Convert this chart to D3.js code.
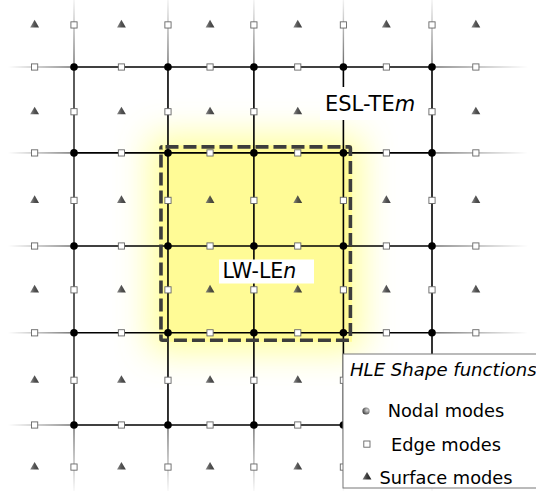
<!DOCTYPE html>
<html><head><meta charset="utf-8">
<script src="https://cdn.jsdelivr.net/npm/d3@7"></script>
<style>html,body{margin:0;padding:0;background:#fff;}svg{display:block;}</style>
</head><body>
<svg id="chart" width="536" height="491"></svg>
<script>
// grid coordinates (element units)
const nodeCols = [0, 1.05, 2.01, 3.01, 4];
const nodeRows = [0, 0.96, 2.0, 2.97, 4];
const midCols = [-0.44, 0.53, 1.52, 2.5, 3.49, 4.49];
const midRows = [-0.47, 0.5, 1.49, 2.49, 3.5, 4.47];
const legendTitle = "HLE Shape functions";
const legendItems = ["Nodal modes", "Edge modes", "Surface modes"];
const labels = [{main: "ESL-TE", ital: "m"}, {main: "LW-LE", ital: "n"}];

const W = 536, H = 491;
const svg = d3.select("#chart");
const sx = d3.scaleLinear().domain([0, 4]).range([74, 432]);
const sy = d3.scaleLinear().domain([0, 4]).range([67, 425]);
const defs = svg.append("defs");

function lg(id, x1, y1, x2, y2, stops) {
  const g = defs.append("linearGradient").attr("id", id)
    .attr("x1", x1).attr("y1", y1).attr("x2", x2).attr("y2", y2);
  stops.forEach(s => g.append("stop").attr("offset", s[0]).attr("stop-color", s[1]).attr("stop-opacity", s[2]));
}
lg("fadeL", 0, 0, 1, 0, [[0, "#000", 0], [1, "#000", 0.6]]);
lg("fadeR", 0, 0, 1, 0, [[0, "#000", 0.6], [1, "#000", 0]]);
lg("fadeT", 0, 0, 0, 1, [[0, "#000", 0.05], [1, "#000", 0.6]]);
lg("fadeB", 0, 0, 0, 1, [[0, "#000", 0.6], [1, "#000", 0.03]]);
lg("triG", 0, 0, 1, 0, [[0, "#7a7a7a", 1], [0.5, "#3c3c3c", 1], [1, "#222", 1]]);
const rg = defs.append("radialGradient").attr("id", "nodeG").attr("cx", 0.65).attr("cy", 0.4).attr("r", 0.7);
rg.append("stop").attr("offset", 0).attr("stop-color", "#ddd");
rg.append("stop").attr("offset", 1).attr("stop-color", "#333");
defs.append("filter").attr("id", "glow").attr("x", -0.5).attr("y", -0.5).attr("width", 2).attr("height", 2)
  .append("feGaussianBlur").attr("stdDeviation", 17);
defs.append("filter").attr("id", "soft").attr("x", -0.1).attr("y", -0.1).attr("width", 1.2).attr("height", 1.2)
  .append("feGaussianBlur").attr("stdDeviation", 0.7);

// yellow highlighted region (LW-LE element)
const bx0 = sx(nodeCols[1]) - 8.5, bx1 = sx(nodeCols[3]) + 8.5;
const by0 = sy(nodeRows[1]) - 7.5, by1 = sy(nodeRows[3]) + 9;
svg.append("rect").attr("x", bx0 - 10).attr("y", by0 - 10).attr("width", bx1 - bx0 + 20).attr("height", by1 - by0 + 20)
  .attr("fill", "#ffff8c").attr("opacity", 0.85).attr("filter", "url(#glow)");
svg.append("rect").attr("x", bx0).attr("y", by0).attr("width", bx1 - bx0).attr("height", by1 - by0)
  .attr("fill", "#fffb96");

// faded line extensions
const x0 = sx(nodeCols[0]), x4 = sx(nodeCols[4]), y0 = sy(nodeRows[0]), y4 = sy(nodeRows[4]);
nodeRows.forEach(r => {
  const y = sy(r);
  svg.append("rect").attr("x", 8).attr("y", y - 0.7).attr("width", x0 - 8).attr("height", 1.4).attr("fill", "url(#fadeL)");
  svg.append("rect").attr("x", x4).attr("y", y - 0.7).attr("width", 528 - x4).attr("height", 1.4).attr("fill", "url(#fadeR)");
});
nodeCols.forEach(c => {
  const x = sx(c);
  svg.append("rect").attr("x", x - 0.7).attr("y", 0).attr("width", 1.4).attr("height", y0).attr("fill", "url(#fadeT)");
  svg.append("rect").attr("x", x - 0.7).attr("y", y4).attr("width", 1.4).attr("height", H - y4).attr("fill", "url(#fadeB)");
});

// grid lines
const grid = svg.append("g").attr("stroke-width", 1.6).attr("fill", "none");
nodeRows.forEach(r => grid.append("line").attr("x1", x0).attr("x2", x4).attr("y1", sy(r)).attr("y2", sy(r)).attr("stroke", "#000"));
nodeCols.forEach((c, i) => grid.append("line").attr("x1", sx(c)).attr("x2", sx(c)).attr("y1", y0).attr("y2", y4)
  .attr("stroke", i === 0 ? "#333" : "#000"));

// dashed element border
svg.append("rect").attr("x", bx0 + 1.5).attr("y", by0 + 1.5).attr("width", bx1 - bx0 - 3).attr("height", by1 - by0 - 3)
  .attr("rx", 1.5).attr("fill", "none").attr("stroke", "#3c3c3c").attr("stroke-width", 3.6)
  .attr("stroke-dasharray", "13,5").attr("stroke-dashoffset", -3).attr("filter", "url(#soft)");

// edge modes (squares)
const sq = 6.2;
const edges = [];
nodeCols.forEach(c => midRows.forEach(r => edges.push([c, r])));
nodeRows.forEach(r => midCols.forEach(c => edges.push([c, r])));
svg.append("g").selectAll("rect").data(edges).join("rect")
  .attr("x", d => sx(d[0]) - sq / 2).attr("y", d => sy(d[1]) - sq / 2)
  .attr("width", sq).attr("height", sq).attr("fill", "#fff").attr("stroke", "#666").attr("stroke-width", 0.9);

// surface modes (triangles)
const tri = d3.symbol().type(d3.symbolTriangle).size(34);
const faces = [];
midCols.forEach(c => midRows.forEach(r => faces.push([c, r])));
svg.append("g").selectAll("path").data(faces).join("path")
  .attr("d", tri).attr("transform", d => `translate(${sx(d[0])},${sy(d[1])})`)
  .attr("fill", "url(#triG)").attr("fill-opacity", 0.88);

// nodal modes
const nodes = [];
nodeCols.forEach(c => nodeRows.forEach(r => nodes.push([c, r])));
svg.append("g").selectAll("circle").data(nodes).join("circle")
  .attr("cx", d => sx(d[0])).attr("cy", d => sy(d[1])).attr("r", 3.8).attr("fill", "#000");

// labels
const lab = [{x: 320, y: 87, w: 98, h: 33, tx: 325, ty: 111, fs: 21}, {x: 219, y: 259.5, w: 95, h: 24, tx: 222.5, ty: 278.3, fs: 20.5}];
labels.forEach((l, i) => {
  const p = lab[i];
  svg.append("rect").attr("x", p.x).attr("y", p.y).attr("width", p.w).attr("height", p.h).attr("fill", "#fff");
  const t = svg.append("text").attr("x", p.tx).attr("y", p.ty).attr("font-family", "DejaVu Sans")
    .attr("font-size", p.fs).attr("fill", "#000");
  t.append("tspan").text(l.main);
  t.append("tspan").attr("font-style", "italic").text(l.ital);
});

// legend
const lgG = svg.append("g");
lgG.append("rect").attr("x", 343).attr("y", 354).attr("width", 210).attr("height", 134)
  .attr("fill", "#fff").attr("stroke", "#777").attr("stroke-width", 1);
lgG.append("text").attr("x", 350).attr("y", 375.5).attr("font-family", "DejaVu Sans").attr("font-style", "italic")
  .attr("font-size", 18.1).attr("fill", "#000").text(legendTitle);
const ly = [417, 450.5, 484];
legendItems.forEach((t, i) => {
  lgG.append("text").attr("x", 446).attr("y", ly[i]).attr("text-anchor", "middle")
    .attr("font-family", "DejaVu Sans").attr("font-size", 17.8).attr("fill", "#000").text(t);
});
lgG.append("circle").attr("cx", 366).attr("cy", 411).attr("r", 3.6).attr("fill", "url(#nodeG)");
lgG.append("rect").attr("x", 363.8).attr("y", 441).attr("width", sq).attr("height", sq)
  .attr("fill", "#fff").attr("stroke", "#666").attr("stroke-width", 0.9);
lgG.append("path").attr("d", tri).attr("transform", "translate(367,477)").attr("fill", "url(#triG)");
</script>
</body></html>
